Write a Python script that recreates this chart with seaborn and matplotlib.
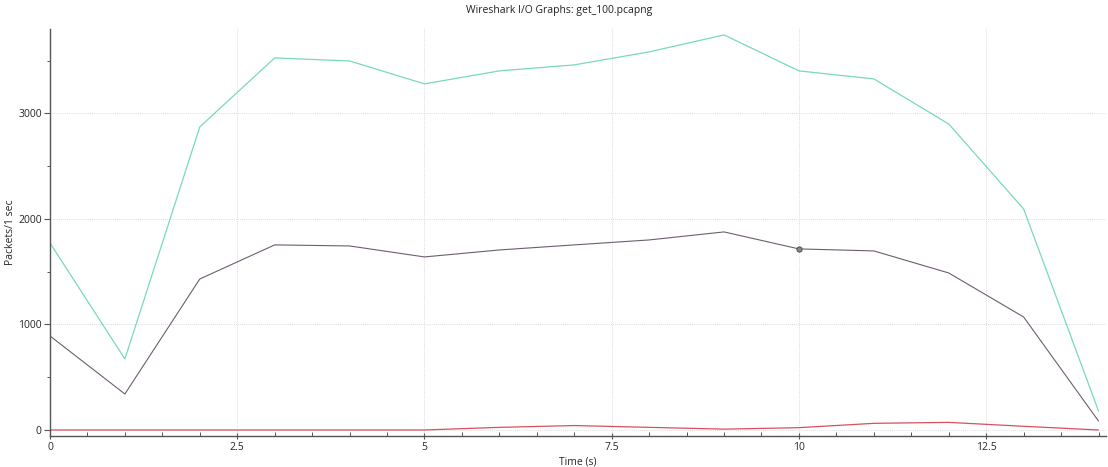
import numpy as np
import pandas as pd
import matplotlib
matplotlib.use("Agg")
import matplotlib.pyplot as plt
from matplotlib.ticker import MultipleLocator
import seaborn as sns

# ---- data ----
time_s = list(range(15))
all_packets = [1772, 673, 2872, 3526, 3497, 3280, 3403, 3460, 3583, 3744,
               3403, 3327, 2900, 2095, 180]
filtered_packets = [891, 341, 1431, 1754, 1744, 1640, 1706, 1754, 1801, 1877,
                    1716, 1697, 1488, 1071, 85]
tcp_errors = [0, 0, 0, 0, 0, 0, 25, 42, 25, 8, 22, 63, 72, 35, 0]
highlight_x = [10]
highlight_y = [1716]

title = "Wireshark I/O Graphs: get_100.pcapng"
xlabel = "Time (s)"
ylabel = "Packets/1 sec"

sns.set_theme(style="white")
plt.rcParams['font.family'] = ['Open Sans', 'DejaVu Sans']

df = pd.DataFrame({"t": time_s, "all": all_packets,
                   "filt": filtered_packets, "err": tcp_errors})

fig = plt.figure(figsize=(11.08, 4.67), dpi=100)
ax = fig.add_axes([50 / 1108, 1 - 436 / 467, (1106 - 50) / 1108, (436 - 29) / 467])

sns.lineplot(data=df, x="t", y="all", ax=ax, color="#79dab4", linewidth=0.9)
sns.lineplot(data=df, x="t", y="filt", ax=ax, color="#6f5d72", linewidth=0.8)
sns.lineplot(data=df, x="t", y="err", ax=ax, color="#d8505e", linewidth=0.9)
ax.scatter(highlight_x, highlight_y, s=14, facecolor="#8a8a8a",
           edgecolor="#4a4a4a", linewidth=0.7, zorder=5)

ax.set_xlim(0, 14.1)
ax.set_ylim(-57, 3800)
ax.xaxis.set_major_locator(MultipleLocator(2.5))
ax.xaxis.set_minor_locator(MultipleLocator(0.5))
ax.yaxis.set_major_locator(MultipleLocator(1000))
ax.yaxis.set_minor_locator(MultipleLocator(500))
ax.set_xticks([0, 2.5, 5, 7.5, 10, 12.5])
ax.set_xticklabels(["0", "2.5", "5", "7.5", "10", "12.5"])

ax.grid(True, which="major", linestyle=(0, (1, 1.5)), color="#d0d0d0", linewidth=0.6)
for s in ["top", "right"]:
    ax.spines[s].set_visible(False)
for s in ["left", "bottom"]:
    ax.spines[s].set_color("#555555")
    ax.spines[s].set_linewidth(1.0)

ax.tick_params(axis="x", which="major", direction="inout", length=5, width=0.8,
               color="#555555", labelsize=7.5, pad=2, bottom=True)
ax.tick_params(axis="x", which="minor", direction="in", length=3, width=0.7,
               color="#555555", bottom=True)
ax.tick_params(axis="y", which="major", direction="out", length=4, width=0.8,
               color="#555555", labelsize=7.5, pad=2, left=True)
ax.tick_params(axis="y", which="minor", direction="out", length=2, width=0.7,
               color="#555555", left=True)

ax.set_xlabel(xlabel, fontsize=7.5, labelpad=2)
ax.set_ylabel(ylabel, fontsize=7.5)
ax.yaxis.set_label_coords(-34 / 1056, 0.5)
fig.text(559 / 1108, 1 - 11 / 467, title, fontsize=7.5, ha="center", va="center",
         color="#222222")

fig.savefig("out.png", dpi=100)
